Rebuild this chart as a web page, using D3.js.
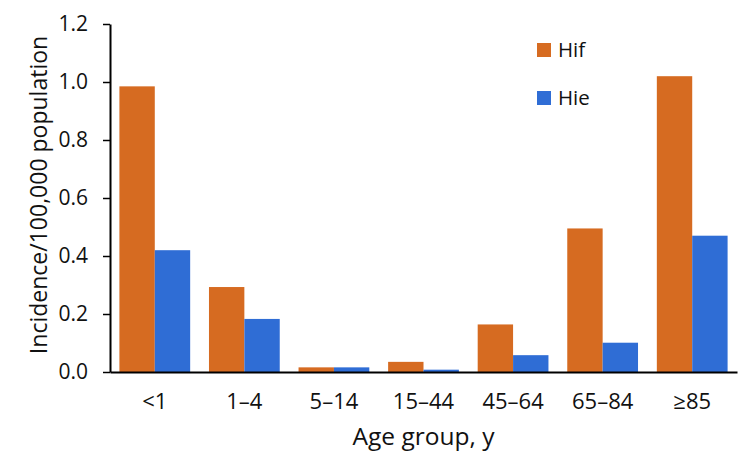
<!DOCTYPE html>
<html><head><meta charset="utf-8">
<script src="https://cdn.jsdelivr.net/npm/d3@7"></script>
<style>body{margin:0;background:#fff}svg{display:block}text{font-family:"Open Sans",sans-serif;fill:#111}</style>
</head><body>
<svg id="c" width="750" height="467"></svg>
<script>
const categories = ["<1","1–4","5–14","15–44","45–64","65–84","≥85"];
const seriesNames = ["Hif","Hie"];
const hif = [0.985,0.293,0.016,0.035,0.164,0.495,1.02];
const hie = [0.42,0.183,0.016,0.008,0.058,0.101,0.47];
const yTicks = [0,0.2,0.4,0.6,0.8,1.0,1.2];
const colors = ["#D66B21","#2F6DD5"];

const svg = d3.select("#c");
const x = d3.scaleBand().domain(categories).range([110,737]).paddingInner(0.21).paddingOuter(0.105);
const xs = d3.scaleBand().domain(seriesNames).range([0,x.bandwidth()]);
const y = d3.scaleLinear().domain([0,1.2]).range([372,24]);
const data = categories.map((c,i)=>({c, vals:[hif[i],hie[i]]}));

const g = svg.append("g");
g.selectAll("g.grp").data(data).join("g").attr("class","grp")
 .attr("transform",d=>`translate(${x(d.c)},0)`)
 .selectAll("rect").data(d=>d.vals.map((v,j)=>({v,j}))).join("rect")
 .attr("x",d=>xs(seriesNames[d.j])).attr("width",xs.bandwidth())
 .attr("y",d=>y(d.v)).attr("height",d=>y(0)-y(d.v)).attr("fill",d=>colors[d.j]);

const FF = "'Open Sans',sans-serif";
// y axis
const ya = svg.append("g").attr("transform","translate(110,0)")
 .call(d3.axisLeft(y).tickValues(yTicks).tickFormat(d3.format(".1f")).tickSize(7).tickSizeOuter(0));
ya.select(".domain").attr("stroke","#000").attr("stroke-width",2);
ya.selectAll(".tick line").attr("stroke","#000").attr("stroke-width",1.5);
ya.selectAll(".tick text").attr("x",-22).attr("font-size",21).style("font-family",FF).attr("fill","#111");

// x axis
const xa = svg.append("g").attr("transform","translate(0,372)")
 .call(d3.axisBottom(x).tickSize(0).tickSizeOuter(0));
xa.select(".domain").attr("stroke","#000").attr("stroke-width",2);
xa.selectAll(".tick text").attr("y",21).attr("dy","0.71em").attr("font-size",22).style("font-family",FF).attr("fill","#111");

// titles
svg.append("text").attr("x",423.5).attr("y",445).attr("text-anchor","middle").attr("font-size",24.5).text("Age group, y");
svg.append("text").attr("transform","translate(47,195) rotate(-90)").attr("text-anchor","middle").attr("font-size",23).text("Incidence/100,000 population");

// legend
const lg = svg.append("g");
seriesNames.forEach((s,i)=>{
  const yy = 43 + i*48;
  lg.append("rect").attr("x",537).attr("y",yy).attr("width",14).attr("height",14).attr("fill",colors[i]);
  lg.append("text").attr("x",558).attr("y",yy+14).attr("font-size",20.5).text(s);
});
</script>
</body></html>
